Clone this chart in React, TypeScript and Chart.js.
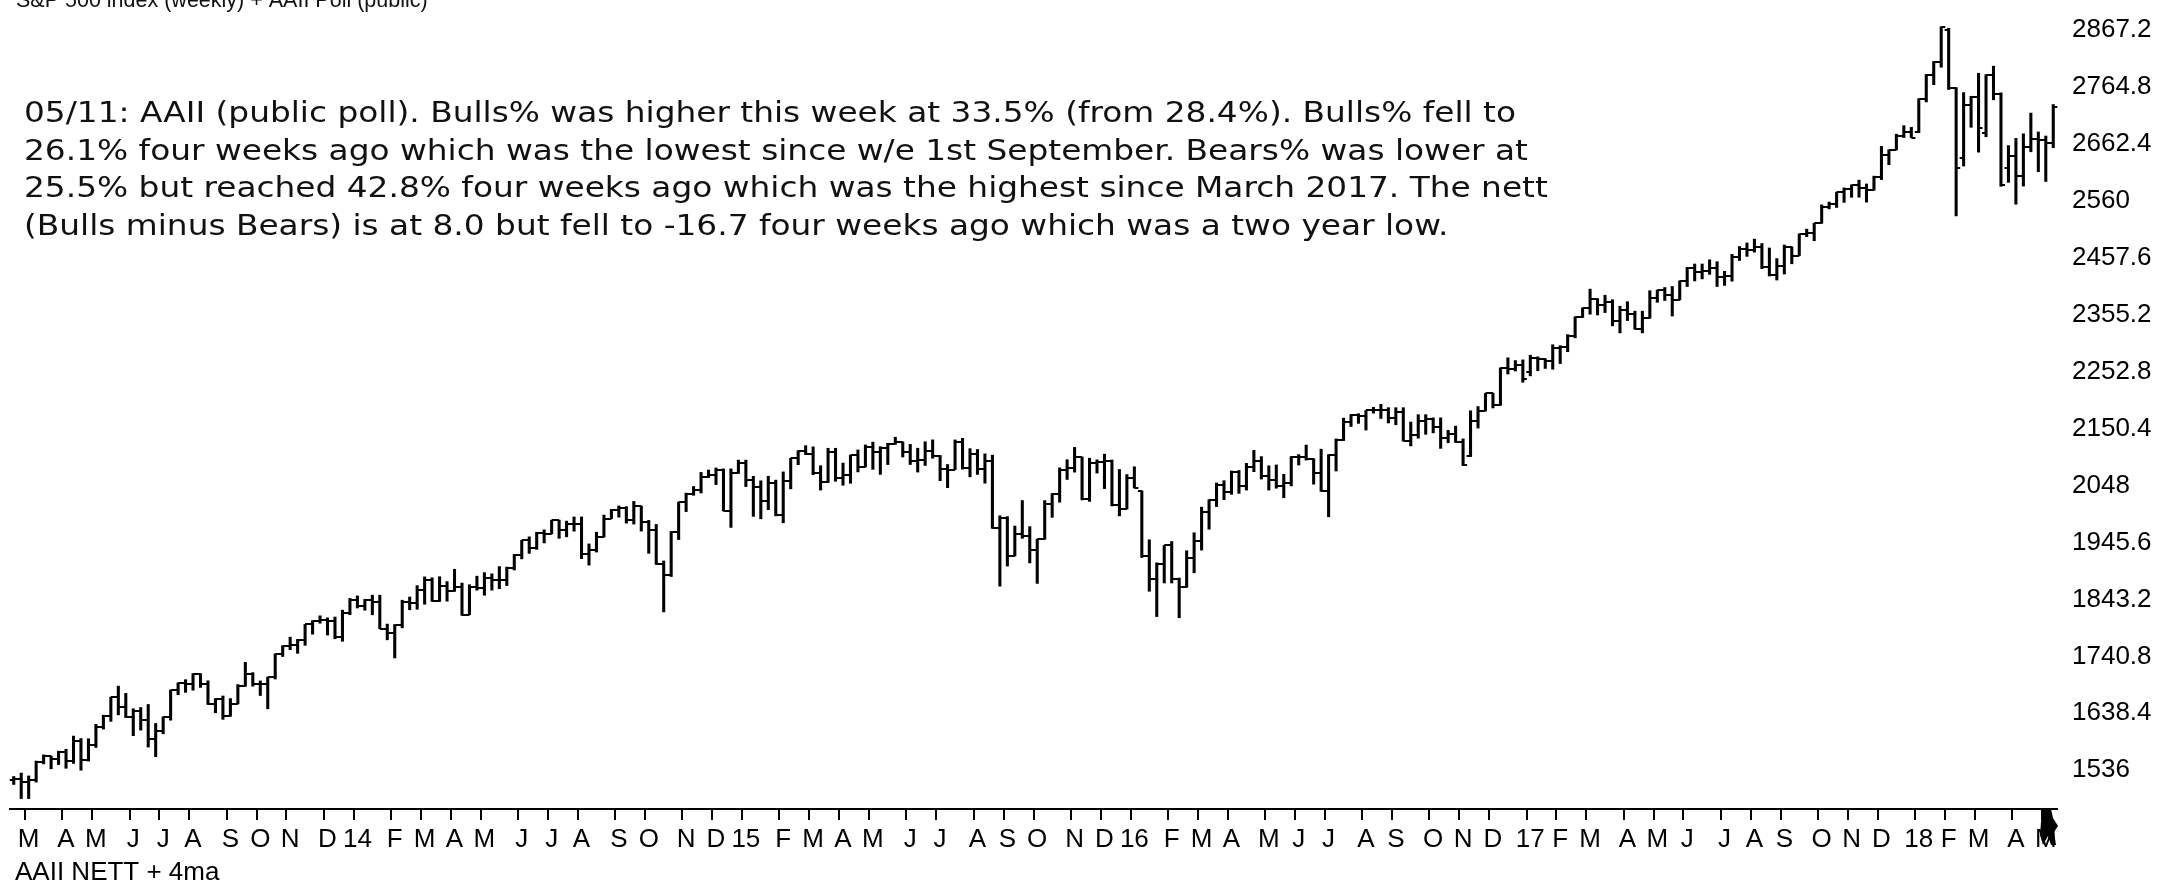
import React, { useEffect, useRef } from 'react';
import { Chart, registerables } from 'chart.js';

Chart.register(...registerables);

// Weekly S&P 500 bars, week ending Friday, starting 15 Feb 2013 (index 0) to 11 May 2018
const FIRST_WEEK_UTC = Date.UTC(2013, 1, 15);

const OPEN = [
  1517.9, 1519.8, 1515.6, 1518.2, 1551.2, 1560.7, 1556.9, 1569.2, 1553.3, 1588.9,
  1555.3, 1582.2, 1614.4, 1633.7, 1667.5, 1649.6, 1631.0, 1643.4, 1626.7, 1592.4,
  1606.3, 1631.9, 1680.2, 1692.1, 1691.7, 1709.7, 1691.4, 1655.8, 1663.5, 1633.0,
  1655.2, 1688.0, 1709.9, 1691.8, 1690.5, 1703.2, 1744.5, 1759.8, 1761.6, 1770.6,
  1798.2, 1804.8, 1805.8, 1805.1, 1775.3, 1818.3, 1841.4, 1831.4, 1842.4, 1838.7,
  1790.3, 1782.6, 1797.0, 1838.6, 1836.3, 1859.5, 1878.0, 1841.1, 1866.5, 1857.6,
  1865.1, 1815.7, 1864.9, 1863.4, 1881.1, 1878.5, 1877.9, 1900.5, 1923.6, 1949.4,
  1936.2, 1962.9, 1961.0, 1985.4, 1967.6, 1978.2, 1978.3, 1925.2, 1931.6, 1955.1,
  1988.4, 2003.4, 2007.7, 1985.5, 2010.4, 1982.9, 1967.9, 1906.1, 1886.8, 1964.6,
  2018.1, 2031.9, 2039.8, 2063.5, 2067.6, 2075.4, 2002.3, 2070.7, 2088.8, 2058.2,
  2044.8, 2019.4, 2051.8, 1995.0, 2055.5, 2097.0, 2110.3, 2104.5, 2071.3, 2053.4,
  2108.1, 2061.0, 2067.0, 2102.1, 2081.2, 2117.7, 2108.3, 2116.1, 2122.7, 2126.1,
  2107.4, 2092.8, 2094.1, 2110.0, 2101.5, 2076.8, 2076.6, 2126.6, 2079.7, 2103.8,
  2077.6, 2091.5, 1970.9, 1988.9, 1921.2, 1961.1, 1958.0, 1931.3, 1951.4, 2014.9,
  2033.1, 2075.2, 2079.4, 2099.2, 2023.0, 2089.2, 2090.1, 2091.7, 2012.4, 2005.6,
  2061.0, 2038.2, 1922.0, 1880.3, 1906.9, 1940.2, 1880.1, 1864.8, 1917.8, 1948.1,
  2000.0, 2022.2, 2049.6, 2035.9, 2072.8, 2047.6, 2080.7, 2091.6, 2065.3, 2057.1,
  2046.6, 2052.3, 2099.1, 2099.1, 2096.1, 2071.2, 2037.4, 2103.0, 2129.9, 2161.7,
  2175.0, 2173.6, 2182.9, 2184.1, 2183.9, 2169.0, 2180.0, 2127.8, 2139.2, 2164.7,
  2168.3, 2153.7, 2133.0, 2141.2, 2126.4, 2100.6, 2164.5, 2181.9, 2213.4, 2192.0,
  2259.5, 2258.1, 2263.8, 2251.6, 2277.0, 2274.6, 2271.3, 2294.7, 2297.4, 2316.1,
  2351.2, 2367.3, 2383.1, 2372.6, 2378.3, 2344.0, 2362.7, 2355.5, 2329.0, 2348.7,
  2384.2, 2399.3, 2390.9, 2381.7, 2415.8, 2439.1, 2431.8, 2433.2, 2438.3, 2423.4,
  2425.2, 2459.3, 2472.5, 2472.1, 2476.8, 2441.3, 2425.6, 2443.1, 2476.6, 2461.4,
  2500.2, 2502.2, 2519.4, 2549.3, 2553.2, 2575.2, 2581.1, 2587.8, 2582.3, 2578.9,
  2602.4, 2642.2, 2651.5, 2675.8, 2683.3, 2683.7, 2743.2, 2786.2, 2810.3, 2867.0,
  2762.1, 2636.8, 2732.2, 2747.3, 2681.0, 2786.6, 2752.0, 2619.4, 2640.9, 2604.5,
  2656.3, 2670.1, 2669.9, 2663.4,
];

const HIGH = [
  1524.7, 1530.9, 1525.8, 1552.5, 1563.6, 1561.6, 1570.3, 1573.7, 1597.4, 1593.0,
  1592.6, 1618.5, 1635.0, 1667.5, 1687.2, 1674.2, 1646.5, 1648.7, 1654.2, 1620.1,
  1631.9, 1680.2, 1693.1, 1698.8, 1709.7, 1709.7, 1696.8, 1664.9, 1669.5, 1664.8,
  1690.0, 1729.9, 1711.5, 1696.6, 1703.4, 1745.3, 1759.8, 1775.2, 1771.3, 1798.2,
  1804.8, 1813.6, 1810.0, 1811.5, 1823.8, 1844.9, 1849.4, 1843.2, 1850.8, 1850.8,
  1798.8, 1798.0, 1841.7, 1847.5, 1867.9, 1883.6, 1882.0, 1884.0, 1875.2, 1897.3,
  1872.5, 1869.6, 1884.9, 1891.3, 1889.1, 1902.2, 1901.3, 1924.0, 1949.4, 1955.6,
  1963.9, 1968.2, 1985.6, 1985.6, 1983.9, 1991.4, 1991.4, 1942.9, 1964.0, 1994.8,
  2005.0, 2011.2, 2010.0, 2019.3, 2011.0, 1985.2, 1977.9, 1912.3, 1965.3, 2018.2,
  2034.3, 2046.2, 2071.5, 2075.8, 2079.5, 2077.9, 2077.9, 2093.6, 2093.6, 2064.4,
  2056.4, 2064.6, 2057.6, 2072.4, 2097.0, 2110.6, 2119.6, 2117.5, 2083.5, 2114.9,
  2114.9, 2088.3, 2102.6, 2111.9, 2120.9, 2125.9, 2117.7, 2123.9, 2134.7, 2126.2,
  2121.9, 2115.0, 2126.6, 2130.0, 2102.0, 2085.7, 2129.9, 2132.8, 2114.2, 2112.7,
  2104.9, 2102.5, 1993.5, 1992.0, 1975.0, 2020.9, 1974.0, 1951.4, 2020.9, 2033.5,
  2079.7, 2094.3, 2116.5, 2099.2, 2097.0, 2094.1, 2104.3, 2093.8, 2076.7, 2067.7,
  2081.6, 2038.2, 1950.3, 1908.9, 1940.2, 1947.2, 1881.6, 1930.7, 1963.0, 2009.1,
  2022.4, 2052.4, 2056.6, 2074.0, 2075.0, 2087.8, 2111.1, 2099.9, 2083.4, 2084.9,
  2068.0, 2100.0, 2103.5, 2120.6, 2096.1, 2113.3, 2103.5, 2131.7, 2169.1, 2175.6,
  2177.1, 2182.9, 2188.5, 2193.8, 2187.9, 2187.9, 2187.9, 2162.0, 2175.3, 2175.3,
  2169.6, 2169.6, 2147.2, 2154.8, 2131.7, 2182.3, 2189.9, 2213.4, 2214.1, 2259.5,
  2277.5, 2272.6, 2273.8, 2282.1, 2279.3, 2276.1, 2301.0, 2299.4, 2319.2, 2351.3,
  2367.3, 2401.0, 2383.9, 2390.0, 2382.0, 2370.3, 2378.4, 2361.4, 2361.4, 2398.2,
  2399.3, 2403.9, 2405.8, 2416.0, 2440.2, 2446.2, 2446.2, 2453.8, 2450.4, 2433.0,
  2463.5, 2477.6, 2484.0, 2490.9, 2483.0, 2475.0, 2456.0, 2480.4, 2477.0, 2500.2,
  2508.9, 2519.4, 2552.5, 2557.6, 2575.4, 2583.0, 2588.4, 2597.0, 2590.1, 2604.2,
  2657.7, 2651.7, 2679.6, 2695.0, 2692.1, 2743.4, 2787.0, 2810.3, 2872.9, 2870.1,
  2763.4, 2754.4, 2747.8, 2789.2, 2786.6, 2801.9, 2754.0, 2659.1, 2672.1, 2680.3,
  2717.5, 2683.6, 2676.3, 2732.9,
];

const LOW = [
  1510.4, 1485.0, 1485.0, 1514.7, 1547.4, 1538.6, 1546.2, 1539.5, 1548.3, 1536.0,
  1552.5, 1577.0, 1610.0, 1623.9, 1635.5, 1630.7, 1598.2, 1608.1, 1577.7, 1560.3,
  1601.5, 1626.0, 1671.8, 1676.0, 1679.9, 1684.9, 1654.2, 1639.4, 1627.5, 1633.0,
  1655.2, 1687.1, 1687.1, 1670.4, 1646.5, 1700.0, 1740.5, 1752.7, 1746.2, 1760.6,
  1780.6, 1800.4, 1779.1, 1772.4, 1767.9, 1815.6, 1827.7, 1823.7, 1815.5, 1790.3,
  1770.5, 1737.9, 1792.0, 1824.6, 1825.4, 1834.4, 1839.6, 1839.5, 1840.0, 1857.6,
  1814.4, 1815.7, 1859.7, 1850.6, 1859.8, 1862.4, 1868.1, 1896.0, 1916.0, 1925.9,
  1933.1, 1944.7, 1961.0, 1952.9, 1955.6, 1965.8, 1916.4, 1904.8, 1928.3, 1955.1,
  1988.4, 1991.0, 1980.3, 1978.6, 1966.0, 1926.0, 1906.1, 1820.7, 1884.3, 1950.8,
  2001.0, 2030.4, 2034.5, 2062.3, 2049.6, 2002.3, 1972.6, 2069.7, 2046.0, 1992.4,
  1988.1, 2004.5, 1993.3, 1980.9, 2041.9, 2085.4, 2103.5, 2067.3, 2039.7, 2053.4,
  2055.6, 2048.4, 2052.0, 2072.4, 2081.2, 2077.0, 2067.9, 2085.6, 2122.0, 2099.2,
  2085.7, 2072.1, 2084.0, 2097.0, 2056.6, 2044.0, 2076.6, 2077.4, 2063.5, 2067.9,
  2052.1, 1970.9, 1867.0, 1903.1, 1921.2, 1953.0, 1908.8, 1871.9, 1951.4, 1990.7,
  2018.0, 2058.8, 2072.0, 2022.0, 2019.4, 2070.3, 2042.4, 2011.2, 1993.3, 2005.6,
  2043.6, 1918.5, 1857.8, 1812.3, 1872.7, 1872.7, 1810.1, 1864.8, 1891.0, 1931.8,
  1969.3, 2010.1, 2022.5, 2032.1, 2033.8, 2039.7, 2072.8, 2059.5, 2039.7, 2043.1,
  2025.9, 2047.3, 2084.8, 2093.6, 2050.4, 2037.4, 1991.7, 2074.0, 2128.7, 2154.1,
  2159.7, 2147.6, 2178.0, 2168.5, 2160.4, 2157.1, 2127.8, 2119.1, 2133.0, 2140.0,
  2142.6, 2114.7, 2124.8, 2125.4, 2083.8, 2100.0, 2151.2, 2181.9, 2187.4, 2192.0,
  2248.4, 2253.8, 2233.6, 2245.1, 2254.3, 2258.4, 2257.0, 2267.2, 2288.5, 2313.4,
  2350.0, 2356.0, 2354.6, 2358.9, 2335.0, 2322.3, 2344.5, 2329.0, 2322.3, 2348.7,
  2377.4, 2380.6, 2352.7, 2381.7, 2405.7, 2415.7, 2419.4, 2427.6, 2405.7, 2407.7,
  2415.3, 2452.5, 2459.9, 2467.5, 2437.8, 2424.6, 2417.4, 2428.2, 2446.6, 2461.4,
  2495.3, 2488.0, 2519.4, 2545.3, 2547.9, 2557.0, 2566.2, 2566.3, 2557.5, 2578.9,
  2598.0, 2624.8, 2651.5, 2673.6, 2673.6, 2682.4, 2737.6, 2768.6, 2800.0, 2760.0,
  2532.7, 2622.4, 2692.0, 2647.3, 2675.0, 2741.4, 2585.9, 2593.0, 2553.8, 2586.3,
  2648.0, 2612.2, 2594.6, 2655.2,
];

const CLOSE = [
  1519.8, 1515.6, 1518.2, 1551.2, 1560.7, 1556.9, 1569.2, 1553.3, 1588.9, 1555.3,
  1582.2, 1614.4, 1633.7, 1667.5, 1649.6, 1631.0, 1643.4, 1626.7, 1592.4, 1606.3,
  1631.9, 1680.2, 1692.1, 1691.7, 1709.7, 1691.4, 1655.8, 1663.5, 1633.0, 1655.2,
  1688.0, 1709.9, 1691.8, 1690.5, 1703.2, 1744.5, 1759.8, 1761.6, 1770.6, 1798.2,
  1804.8, 1805.8, 1805.1, 1775.3, 1818.3, 1841.4, 1831.4, 1842.4, 1838.7, 1790.3,
  1782.6, 1797.0, 1838.6, 1836.3, 1859.5, 1878.0, 1841.1, 1866.5, 1857.6, 1865.1,
  1815.7, 1864.9, 1863.4, 1881.1, 1878.5, 1877.9, 1900.5, 1923.6, 1949.4, 1936.2,
  1962.9, 1961.0, 1985.4, 1967.6, 1978.2, 1978.3, 1925.2, 1931.6, 1955.1, 1988.4,
  2003.4, 2007.7, 1985.5, 2010.4, 1982.9, 1967.9, 1906.1, 1886.8, 1964.6, 2018.1,
  2031.9, 2039.8, 2063.5, 2067.6, 2075.4, 2002.3, 2070.7, 2088.8, 2058.2, 2044.8,
  2019.4, 2051.8, 1995.0, 2055.5, 2097.0, 2110.3, 2104.5, 2071.3, 2053.4, 2108.1,
  2061.0, 2067.0, 2102.1, 2081.2, 2117.7, 2108.3, 2116.1, 2122.7, 2126.1, 2107.4,
  2092.8, 2094.1, 2110.0, 2101.5, 2076.8, 2076.6, 2126.6, 2079.7, 2103.8, 2077.6,
  2091.5, 1970.9, 1988.9, 1921.2, 1961.1, 1958.0, 1931.3, 1951.4, 2014.9, 2033.1,
  2075.2, 2079.4, 2099.2, 2023.0, 2089.2, 2090.1, 2091.7, 2012.4, 2005.6, 2061.0,
  2043.9, 1922.0, 1880.3, 1906.9, 1940.2, 1880.1, 1864.8, 1917.8, 1948.1, 2000.0,
  2022.2, 2049.6, 2035.9, 2072.8, 2047.6, 2080.7, 2091.6, 2065.3, 2057.1, 2046.6,
  2052.3, 2099.1, 2099.1, 2096.1, 2071.2, 2037.4, 2103.0, 2129.9, 2161.7, 2175.0,
  2173.6, 2182.9, 2184.1, 2183.9, 2169.0, 2180.0, 2127.8, 2139.2, 2164.7, 2168.3,
  2153.7, 2133.0, 2141.2, 2126.4, 2085.2, 2164.5, 2181.9, 2213.4, 2192.0, 2259.5,
  2258.1, 2263.8, 2238.8, 2277.0, 2274.6, 2271.3, 2294.7, 2297.4, 2316.1, 2351.2,
  2367.3, 2383.1, 2372.6, 2378.3, 2344.0, 2362.7, 2355.5, 2329.0, 2348.7, 2384.2,
  2399.3, 2390.9, 2381.7, 2415.8, 2439.1, 2431.8, 2433.2, 2438.3, 2423.4, 2425.2,
  2459.3, 2472.5, 2472.1, 2476.8, 2441.3, 2425.6, 2443.1, 2476.6, 2461.4, 2500.2,
  2502.2, 2519.4, 2549.3, 2553.2, 2575.2, 2581.1, 2587.8, 2582.3, 2578.9, 2602.4,
  2642.2, 2651.5, 2675.8, 2683.3, 2673.6, 2743.2, 2786.2, 2810.3, 2872.9, 2762.1,
  2619.6, 2732.2, 2747.3, 2691.3, 2786.6, 2752.0, 2588.3, 2640.9, 2604.5, 2656.3,
  2670.1, 2669.9, 2663.4, 2727.7,
];

const Y_TICKS = [1536, 1638.4, 1740.8, 1843.2, 1945.6, 2048, 2150.4, 2252.8, 2355.2, 2457.6, 2560, 2662.4, 2764.8, 2867.2];
const Y_MIN = 1466.3;
const Y_MAX = 2911.9;

const MONTH_LETTERS = ['J', 'F', 'M', 'A', 'M', 'J', 'J', 'A', 'S', 'O', 'N', 'D'];

const TITLE = 'S&P 500 index (weekly) + AAII Poll (public)';
const SUBTITLE = 'AAII NETT + 4ma';
const NOTE_LINES = [
  '05/11: AAII (public poll). Bulls% was higher this week at 33.5% (from 28.4%). Bulls% fell to',
  '26.1% four weeks ago which was the lowest since w/e 1st September. Bears% was lower at',
  '25.5% but reached 42.8% four weeks ago which was the highest since March 2017. The nett',
  '(Bulls minus Bears) is at 8.0 but fell to -16.7 four weeks ago which was a two year low.',
];

const WEEKS = CLOSE.map((_, i) => new Date(FIRST_WEEK_UTC + i * 7 * 86400000).toISOString().slice(0, 10));
const MONTH_TICKS = WEEKS.map((d, i) => {
  if (i === 0) return '';
  const m = Number(d.slice(5, 7));
  const pm = Number(WEEKS[i - 1].slice(5, 7));
  if (m === pm) return '';
  return m === 1 ? d.slice(2, 4) : MONTH_LETTERS[m - 1];
});

const SANS = '"Liberation Sans", Arial, Helvetica, sans-serif';

function makeTick(side: 'left' | 'right'): HTMLCanvasElement {
  const c = document.createElement('canvas');
  c.width = 10;
  c.height = 2;
  const g = c.getContext('2d')!;
  g.fillStyle = '#000';
  if (side === 'left') g.fillRect(1, 0, 4, 2);
  else g.fillRect(5, 0, 4, 2);
  return c;
}

const textPlugin = {
  id: 'texts',
  afterDraw(chart: any) {
    const ctx = chart.ctx as CanvasRenderingContext2D;
    ctx.save();
    ctx.textBaseline = 'alphabetic';
    ctx.textAlign = 'left';
    ctx.fillStyle = '#111';
    ctx.font = '21.5px ' + SANS;
    ctx.fillText(TITLE, 16, 7);

    ctx.fillStyle = '#000';
    ctx.font = '26px ' + SANS;
    ctx.fillText(SUBTITLE, 15, 880);

    // mouse cursor glyph at the end of the axis
    ctx.beginPath();
    ctx.moveTo(2043, 809);
    ctx.lineTo(2051, 809);
    ctx.lineTo(2053, 818);
    ctx.lineTo(2058, 826);
    ctx.lineTo(2054, 832);
    ctx.lineTo(2056, 845);
    ctx.lineTo(2051, 845);
    ctx.lineTo(2048, 836);
    ctx.lineTo(2043, 845);
    ctx.lineTo(2040, 835);
    ctx.lineTo(2041, 822);
    ctx.closePath();
    ctx.fill();
    ctx.restore();

    // annotation block
    ctx.save();
    ctx.fillStyle = '#111';
    ctx.textBaseline = 'alphabetic';
    ctx.textAlign = 'left';
    ctx.font = '28px "DejaVu Sans", Verdana, sans-serif';
    const w0 = ctx.measureText(NOTE_LINES[0]).width;
    const sx = 1492 / w0;
    ctx.translate(24, 0);
    ctx.scale(sx, 1);
    NOTE_LINES.forEach((line, k) => ctx.fillText(line, 0, 122 + k * 37.5));
    ctx.restore();
  },
};

export default function App() {
  const ref = useRef<HTMLCanvasElement>(null);
  useEffect(() => {
    document.body.style.margin = '0';
    const canvas = ref.current!;
    const openImg = makeTick('left');
    const closeImg = makeTick('right');
    const chart = new Chart(canvas, {
      type: 'bar',
      data: {
        labels: WEEKS,
        datasets: [
          {
            type: 'bar',
            data: LOW.map((l, i) => [l, HIGH[i]]) as any,
            backgroundColor: '#000',
            borderWidth: 0,
            barThickness: 2.4,
            order: 3,
          },
          {
            type: 'line',
            data: OPEN,
            showLine: false,
            pointStyle: openImg as any,
            pointRadius: 4,
            order: 2,
          },
          {
            type: 'line',
            data: CLOSE,
            showLine: false,
            pointStyle: closeImg as any,
            pointRadius: 4,
            order: 1,
          },
        ] as any,
      },
      options: {
        responsive: false,
        animation: false,
        devicePixelRatio: 1,
        events: [],
        layout: { padding: { left: 10, right: 0, top: 0, bottom: 0 } },
        plugins: { legend: { display: false }, tooltip: { enabled: false } },
        scales: {
          x: {
            type: 'category',
            offset: true,
            grid: {
              offset: true,
              drawOnChartArea: false,
              drawTicks: true,
              tickLength: 11,
              lineWidth: 2,
              color: (c: any) => (c.type === 'tick' && MONTH_TICKS[c.index] ? '#000' : 'rgba(0,0,0,0)'),
            },
            border: { display: true, color: '#000', width: 2 },
            ticks: {
              autoSkip: false,
              maxRotation: 0,
              minRotation: 0,
              padding: 4,
              color: '#000',
              font: { family: SANS, size: 26 },
              callback: (_v: any, i: number) => MONTH_TICKS[i],
            },
            afterFit: (s: any) => {
              s.height = 81;
              s.paddingLeft = 0;
              s.paddingRight = 0;
            },
          },
          y: {
            position: 'right',
            min: Y_MIN,
            max: Y_MAX,
            grid: { display: false, drawTicks: false },
            border: { display: false },
            afterBuildTicks: (s: any) => {
              s.ticks = Y_TICKS.map((v) => ({ value: v }));
            },
            ticks: {
              padding: 15,
              color: '#000',
              font: { family: SANS, size: 26 },
              callback: (v: any) => String(v),
            },
            afterFit: (s: any) => {
              s.width = 111;
              s.paddingTop = 0;
              s.paddingBottom = 0;
            },
          },
        },
      } as any,
      plugins: [textPlugin],
    });
    return () => chart.destroy();
  }, []);
  return (
    <div style={{ width: 2168, height: 890, background: '#fff' }}>
      <canvas ref={ref} width={2168} height={890} style={{ display: 'block' }} />
    </div>
  );
}
